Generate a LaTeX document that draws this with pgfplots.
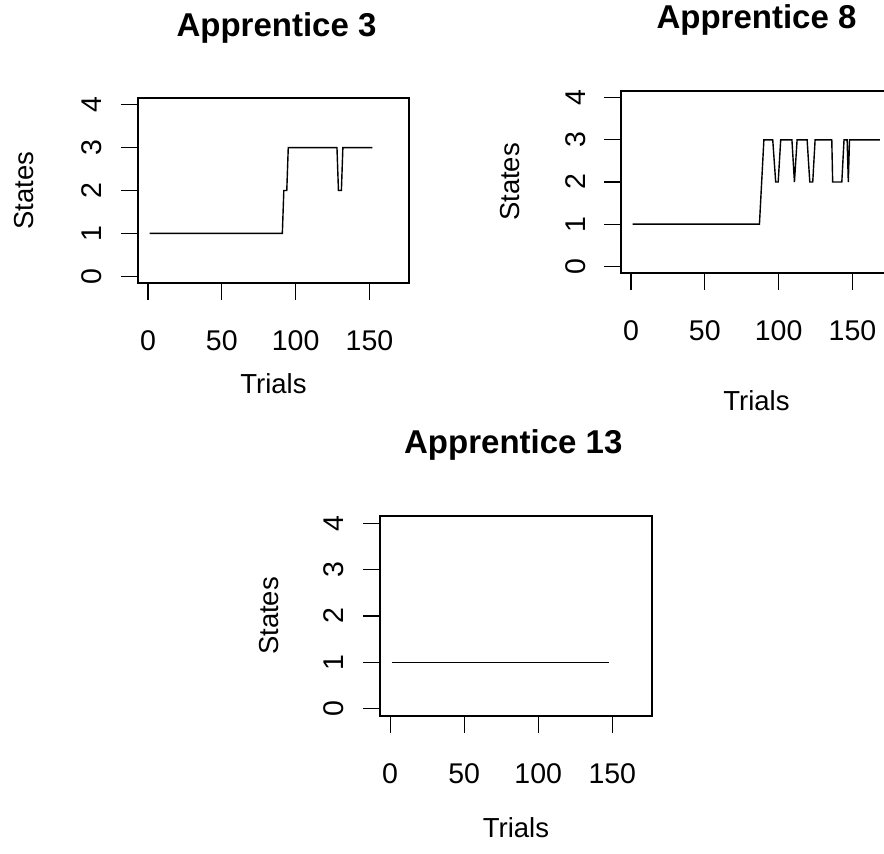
\documentclass[border=0pt]{standalone}
\usepackage{pgfplots}
\pgfplotsset{compat=1.18}
\usepackage{fontspec}
\setmainfont{Liberation Sans}
\pgfplotsset{
  rplot/.style={
    scale only axis,
    anchor=south west,
    axis line style={line width=1.4pt, black},
    xmin=-6.8, xmax=176.8, ymin=-0.16, ymax=4.16,
    xtick={0,50,100,150}, ytick={0,1,2,3,4},
    tick align=outside, xtick pos=bottom, ytick pos=left,
    major tick length=17pt,
    tick style={line width=1.1pt, black},
    /pgf/number format/assume math mode=true,
    ticklabel style={font=\fontsize{28.5}{34}\selectfont},
    xticklabel style={anchor=base},
    xticklabel shift=51pt,
    yticklabel style={rotate=90, anchor=base},
    yticklabel shift=19pt,
    label style={font=\fontsize{27.5}{33}\selectfont},
    title style={font=\fontsize{33}{40}\selectfont\bfseries, anchor=base},
    xlabel style={anchor=base},
    ylabel style={anchor=base, rotate=0},
  }
}
\begin{document}
\begin{tikzpicture}
\useasboundingbox (0pt,0pt) rectangle (884pt,854pt);
\clip (0pt,0pt) rectangle (884pt,854pt);
% Apprentice 3
\begin{axis}[rplot, at={(138pt,571pt)}, width=271pt, height=185pt,
  title={Apprentice 3}, title style={at={(axis description cs:0.511,1.299)}},
  xlabel={Trials}, xlabel style={at={(axis description cs:0.5,-0.600)}},
  ylabel={States}, ylabel style={at={(axis description cs:-0.386,0.5)}}]
\addplot[black, line width=1.4pt, mark=none] coordinates {
(1,1) (91,1) (92,2) (94,2) (95,3) (128,3) (129,2) (131,2) (132,3) (152,3)};
\end{axis}
% Apprentice 8
\begin{axis}[rplot, at={(621pt,581pt)}, width=271pt, height=182pt,
  title={Apprentice 8}, title style={at={(axis description cs:0.5,1.308)}},
  xlabel={Trials}, xlabel style={at={(axis description cs:0.5,-0.753)}},
  ylabel={States}, ylabel style={at={(axis description cs:-0.373,0.5)}}]
\addplot[black, line width=1.4pt, mark=none] coordinates {
(1,1) (87,1) (90,3) (96,3) (98,2) (99.7,2) (101.4,3) (109,3) (110.7,2) (112.5,3)
(119.3,3) (121.1,2) (123.1,2) (124.7,3) (136,3) (136.6,2) (142.8,2) (144.3,3)
(146.4,3) (147.2,2) (148,3) (168.6,3)};
\end{axis}
% Apprentice 13
\begin{axis}[rplot, at={(380pt,138pt)}, width=272pt, height=200pt,
  title={Apprentice 13}, title style={at={(axis description cs:0.49,1.28)}},
  xlabel={Trials}, xlabel style={at={(axis description cs:0.5,-0.605)}},
  ylabel={States}, ylabel style={at={(axis description cs:-0.375,0.5)}}]
\addplot[black, line width=1.4pt, mark=none] coordinates {(1,1) (148,1)};
\end{axis}
\end{tikzpicture}
\end{document}
